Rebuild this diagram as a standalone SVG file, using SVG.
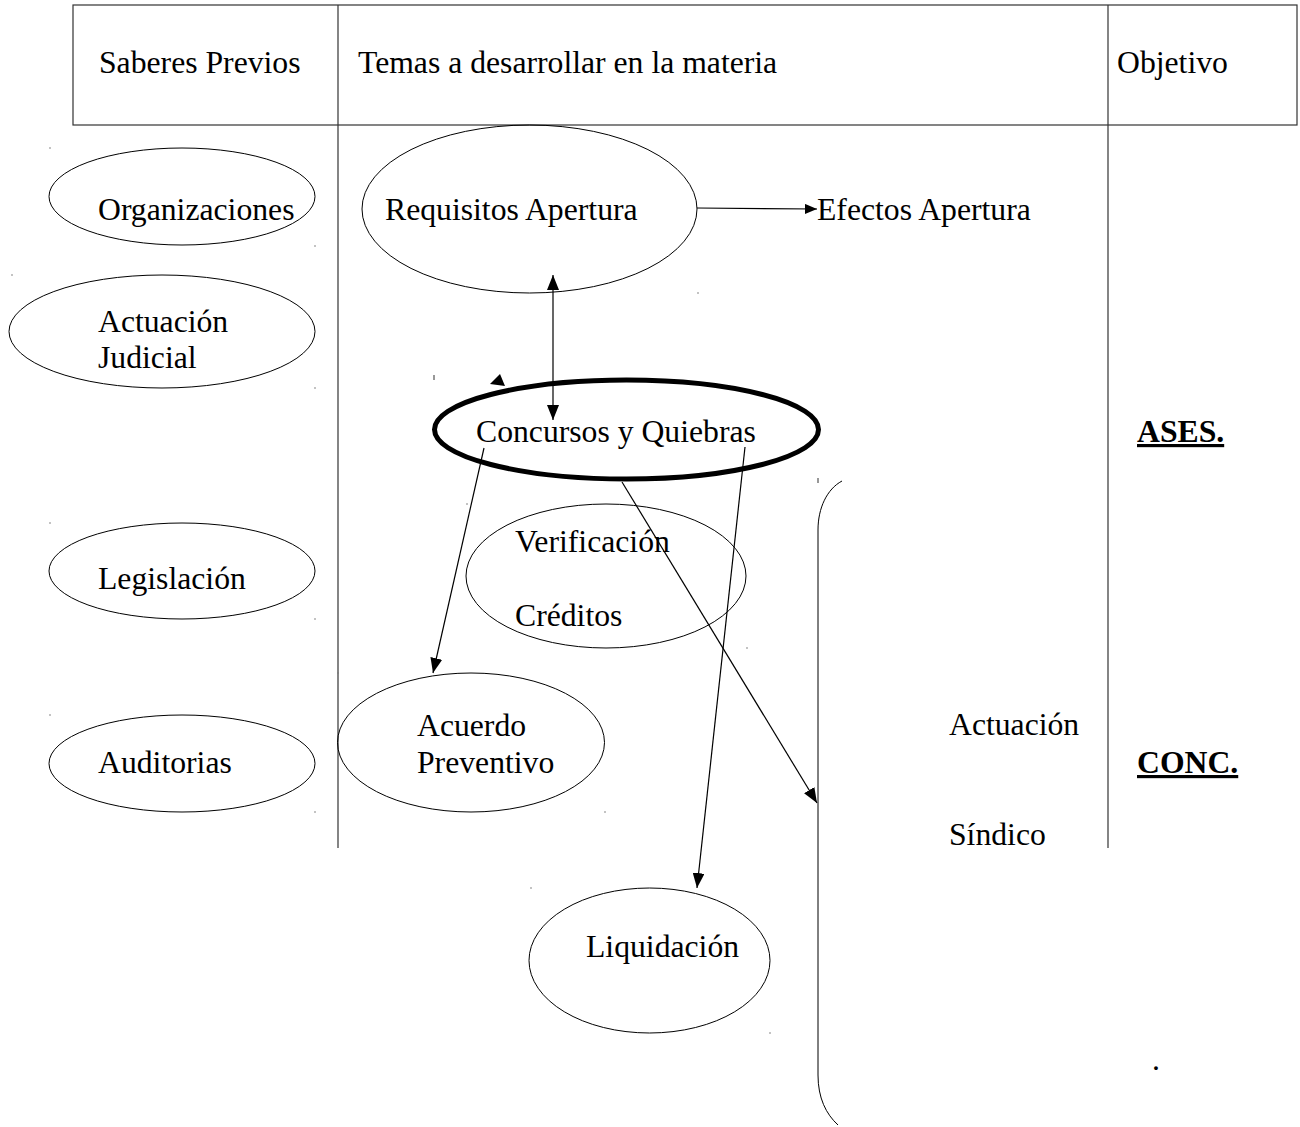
<svg xmlns="http://www.w3.org/2000/svg" width="1300" height="1127" viewBox="0 0 1300 1127">
<style>
text{font-family:"Liberation Serif","Times New Roman",serif;font-size:31.7px;fill:#000}
.b{font-weight:bold;text-decoration:underline}
.n{fill:none;stroke:#000;stroke-width:1}
.thick{fill:none;stroke:#000;stroke-width:5}
.c{fill:none;stroke:#000;stroke-width:1.2}
.grid{fill:none;stroke:#333;stroke-width:1.2}
.dot{fill:#777}
</style>
<defs>
<marker id="ah" viewBox="0 0 15 12" refX="15" refY="6" markerWidth="15" markerHeight="12" markerUnits="userSpaceOnUse" orient="auto-start-reverse">
<path d="M0,0 L15,6 L0,12 z" fill="#000"/>
</marker>
<marker id="ahs" viewBox="0 0 12 10" refX="12" refY="5" markerWidth="12" markerHeight="10" markerUnits="userSpaceOnUse" orient="auto">
<path d="M0,0 L12,5 L0,10 z" fill="#000"/>
</marker>
</defs>
<rect width="1300" height="1127" fill="#fff"/>
<g id="table">
<rect class="grid" x="73" y="5" width="1224" height="120"/>
<line class="grid" x1="338" y1="5" x2="338" y2="848"/>
<line class="grid" x1="1108" y1="5" x2="1108" y2="848"/>
<text x="99" y="73">Saberes Previos</text>
<text x="358" y="73">Temas a desarrollar en la materia</text>
<text x="1117" y="73">Objetivo</text>
</g>
<g id="organizaciones"><ellipse class="n" cx="182" cy="196.5" rx="133" ry="48.5"/><text x="98" y="220">Organizaciones</text></g>
<g id="actuacion-judicial"><ellipse class="n" cx="162" cy="331.5" rx="153" ry="56.5"/><text x="98" y="332">Actuación</text><text x="98" y="368">Judicial</text></g>
<g id="legislacion"><ellipse class="n" cx="182" cy="571" rx="133" ry="48"/><text x="98" y="589">Legislación</text></g>
<g id="auditorias"><ellipse class="n" cx="182" cy="763.5" rx="133" ry="48.5"/><text x="98" y="773">Auditorias</text></g>
<g id="requisitos"><ellipse class="n" cx="529.5" cy="209" rx="167.5" ry="84"/><text x="385" y="220">Requisitos Apertura</text></g>
<g id="efectos"><text x="817" y="220">Efectos Apertura</text></g>
<g id="concursos"><ellipse class="thick" cx="626.5" cy="429.5" rx="192" ry="49.5"/><text x="476" y="442">Concursos y Quiebras</text></g>
<g id="verificacion"><ellipse class="n" cx="606" cy="576" rx="140" ry="72"/><text x="515" y="552">Verificación</text><text x="515" y="626">Créditos</text></g>
<g id="acuerdo"><ellipse class="n" cx="471" cy="742.5" rx="133.5" ry="69.5"/><text x="417" y="736">Acuerdo</text><text x="417" y="773">Preventivo</text></g>
<g id="liquidacion"><ellipse class="n" cx="649.5" cy="960.5" rx="120.5" ry="72.5"/><text x="586" y="957">Liquidación</text></g>
<g id="sindico">
<path class="n" d="M842,481 C827,489 818,508 818,530 L818,1075 C818,1098 826,1114 838,1125"/>
<text x="949" y="735">Actuación</text><text x="949" y="845">Síndico</text>
</g>
<g id="objetivos">
<text class="b" x="1137" y="442">ASES.</text>
<text class="b" x="1137" y="773">CONC.</text>
<text x="1152" y="1070">.</text>
</g>
<g id="connectors">
<line class="c" x1="697" y1="208" x2="817" y2="209" marker-end="url(#ahs)"/>
<line class="c" x1="553" y1="275" x2="553" y2="420" marker-start="url(#ah)" marker-end="url(#ah)"/>
<line class="c" x1="484" y1="448" x2="433" y2="673" marker-end="url(#ah)"/>
<line class="c" x1="745" y1="447" x2="697" y2="888" marker-end="url(#ah)"/>
<line class="c" x1="622" y1="482" x2="817" y2="803" marker-end="url(#ah)"/>
<polygon points="490,384 500,374 505,386" fill="#000"/>
</g>
<g id="marks">
<rect x="433.5" y="375" width="1" height="5" fill="#333"/>
<rect x="817.5" y="478" width="1" height="5" fill="#333"/>
<circle class="dot" cx="50" cy="148" r="0.8"/>
<circle class="dot" cx="315" cy="246" r="0.8"/>
<circle class="dot" cx="12" cy="275" r="0.8"/>
<circle class="dot" cx="315" cy="388" r="0.8"/>
<circle class="dot" cx="50" cy="523" r="0.8"/>
<circle class="dot" cx="315" cy="619" r="0.8"/>
<circle class="dot" cx="50" cy="715" r="0.8"/>
<circle class="dot" cx="315" cy="812" r="0.8"/>
<circle class="dot" cx="698" cy="293" r="0.8"/>
<circle class="dot" cx="467" cy="504" r="0.8"/>
<circle class="dot" cx="747" cy="648" r="0.8"/>
<circle class="dot" cx="338" cy="673" r="0.8"/>
<circle class="dot" cx="605" cy="812" r="0.8"/>
<circle class="dot" cx="531" cy="888" r="0.8"/>
<circle class="dot" cx="770" cy="1033" r="0.8"/>
</g>
</svg>
